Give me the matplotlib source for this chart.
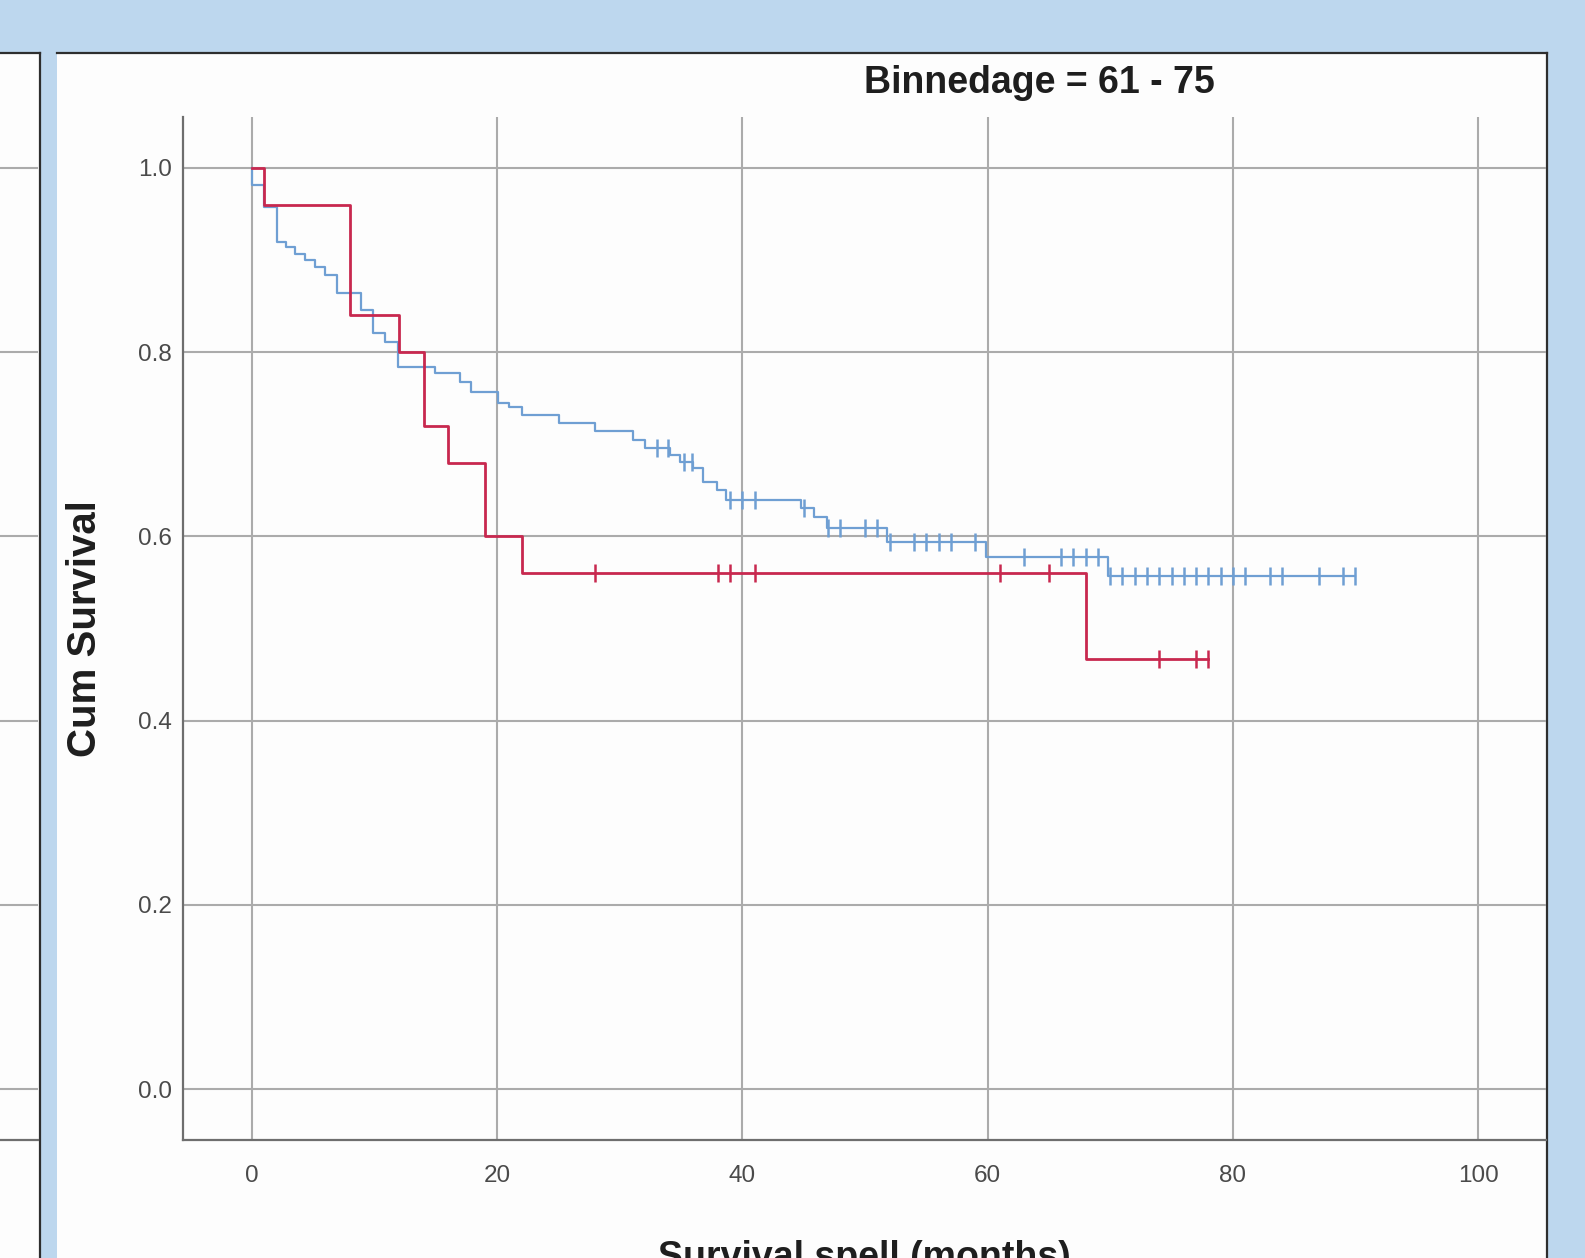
import matplotlib
matplotlib.use('Agg')
import matplotlib.pyplot as plt
import numpy as np
from matplotlib.patches import Rectangle
from matplotlib.lines import Line2D

# ---------------- data ----------------
title_text = "Binnedage = 61 - 75"
x_label = "Survival spell (months)"
y_label = "Cum Survival"
x_ticks = [0, 20, 40, 60, 80, 100]
x_tick_labels = ["0", "20", "40", "60", "80", "100"]
y_ticks = [0.0, 0.2, 0.4, 0.6, 0.8, 1.0]
y_tick_labels = ["0.0", "0.2", "0.4", "0.6", "0.8", "1.0"]

blue_event_times = [0, 1, 2, 2.8, 3.5, 4.3, 5.1, 5.95, 6.9, 8.9, 9.9, 10.85, 11.9,
                    14.9, 17.0, 17.9, 20.1, 21.0, 22.0, 25.0, 28.0, 31.1, 32.05,
                    34.1, 34.9, 36.0, 36.8, 37.9, 38.7, 44.8, 45.8, 46.9, 51.8,
                    59.9, 69.8]
blue_survival = [0.982, 0.958, 0.920, 0.914, 0.907, 0.900, 0.892, 0.884, 0.864,
                 0.846, 0.821, 0.811, 0.784, 0.777, 0.768, 0.757, 0.745, 0.741,
                 0.732, 0.723, 0.714, 0.705, 0.696, 0.688, 0.681, 0.674, 0.659,
                 0.650, 0.640, 0.631, 0.621, 0.609, 0.594, 0.578, 0.557]
blue_censor_times = [33, 33.9, 35.2, 35.9, 39, 40, 41, 45, 47, 48, 50, 51, 52, 54,
                     55, 56, 57, 59, 63, 66, 67, 68, 69, 70, 71, 72, 73, 74, 75,
                     76, 77, 78, 79, 80, 81, 83, 84, 87, 89, 90]
blue_end = 90

red_event_times = [1, 8, 12, 14, 16, 19, 22, 68]
red_survival = [0.96, 0.84, 0.80, 0.72, 0.68, 0.60, 0.56, 0.467]
red_censor_times = [28, 38, 39, 41, 61, 65, 74, 77, 78]
red_end = 78

# ---------------- layout ----------------
W, H = 1585, 1258
DPI = 100
BG = '#BDD7EE'
PANEL = '#FDFDFD'
BORDER = '#2E2E2E'
GRID = '#ABABAB'
SPINE = '#6E6E6E'
BLUE = '#6F9FD3'
RED = '#C8284F'
TXT = '#1E1E1E'
TICK = '#4A4A4A'
FONT = 'Liberation Sans'


def fx(px):
    return px / W


def fy(py):
    return 1 - py / H


fig = plt.figure(figsize=(W / DPI, H / DPI), dpi=DPI, facecolor=BG)

# panels (white cards)
fig.add_artist(Rectangle((fx(-5), fy(1280)), 45 / W, (1280 - 53) / H,
                         transform=fig.transFigure, facecolor=PANEL,
                         edgecolor='none', zorder=-10))
fig.add_artist(Rectangle((fx(57), fy(1280)), (1547 - 57) / W, (1280 - 53) / H,
                         transform=fig.transFigure, facecolor=PANEL,
                         edgecolor='none', zorder=-10))
# borders
for xs, ys in [([0, 40], [53, 53]), ([40, 40], [53, 1280]),
               ([57, 1547], [53, 53]), ([1547, 1547], [53, 1280])]:
    fig.add_artist(Line2D([fx(v) for v in xs], [fy(v) for v in ys],
                          transform=fig.transFigure, color=BORDER, lw=1.6,
                          zorder=-9))

ax_left_px, ax_right_px, ax_top_px, ax_bot_px = 183, 1546, 117, 1140
x0_px, x100_px = 252, 1478
y1_px, y0_px = 168, 1089
ppx = (x100_px - x0_px) / 100.0
ppy = (y0_px - y1_px) / 1.0
xlim = ((ax_left_px - x0_px) / ppx, (ax_right_px - x0_px) / ppx)
ylim = (-(ax_bot_px - y0_px) / ppy, 1 + (y1_px - ax_top_px) / ppy)

# partial left panel
axl = fig.add_axes([fx(0), fy(ax_bot_px), 38 / W, (ax_bot_px - ax_top_px) / H])
axl.set_facecolor('none')
axl.set_ylim(*ylim)
axl.set_xlim(0, 1)
axl.set_yticks(y_ticks)
axl.set_xticks([])
axl.tick_params(left=False, labelleft=False)
axl.grid(axis='y', color=GRID, lw=1.5)
for s in ['top', 'left', 'right']:
    axl.spines[s].set_visible(False)
axl.spines['bottom'].set_color(SPINE)
axl.spines['bottom'].set_linewidth(1.6)

# main axes
ax = fig.add_axes([fx(ax_left_px), fy(ax_bot_px),
                   (ax_right_px - ax_left_px) / W, (ax_bot_px - ax_top_px) / H])
ax.set_facecolor('none')
ax.set_xlim(*xlim)
ax.set_ylim(*ylim)
ax.set_axisbelow(True)
ax.grid(True, color=GRID, lw=1.5)
for s in ['top', 'right']:
    ax.spines[s].set_visible(False)
for s in ['left', 'bottom']:
    ax.spines[s].set_color(SPINE)
    ax.spines[s].set_linewidth(1.6)
ax.set_xticks(x_ticks)
ax.set_xticklabels(x_tick_labels)
ax.set_yticks(y_ticks)
ax.set_yticklabels(y_tick_labels)
ax.tick_params(axis='both', length=0, labelsize=17.5, labelcolor=TICK)
ax.tick_params(axis='x', pad=18)
ax.tick_params(axis='y', pad=8)
for lab in ax.get_xticklabels() + ax.get_yticklabels():
    lab.set_fontfamily(FONT)


def km_curve(times, surv, censors, end, color, lw):
    xs = [0.0] + list(times) + [end]
    ys = [1.0] + list(surv) + [surv[-1]]
    ax.step(xs, ys, where='post', color=color, lw=lw, zorder=3)
    levels = np.array([1.0] + list(surv))
    idx = np.searchsorted(np.array(times, dtype=float), np.array(censors, dtype=float),
                          side='right')
    ax.plot(censors, levels[idx], linestyle='none', marker='|', ms=13, mew=1.8,
            color=color, zorder=4)


km_curve(blue_event_times, blue_survival, blue_censor_times, blue_end, BLUE, 1.6)
km_curve(red_event_times, red_survival, red_censor_times, red_end, RED, 2.0)

# texts
ax.set_title(title_text, fontsize=27, fontweight='bold', fontfamily=FONT,
             color=TXT, x=(1039 - ax_left_px) / (ax_right_px - ax_left_px),
             y=(ax_bot_px - 93) / (ax_bot_px - ax_top_px), pad=0, va='baseline')
ax.set_ylabel(y_label, fontsize=29, fontweight='bold', fontfamily=FONT,
              color=TXT, va='center')
ax.yaxis.set_label_coords((85 - ax_left_px) / (ax_right_px - ax_left_px), 0.5)
ax.set_xlabel(x_label, fontsize=27, fontweight='bold', fontfamily=FONT,
              color=TXT, va='top')
ax.xaxis.set_label_coords(0.5, (ax_bot_px - 1240) / (ax_bot_px - ax_top_px))

fig.savefig('out.png', dpi=DPI, facecolor=BG)
